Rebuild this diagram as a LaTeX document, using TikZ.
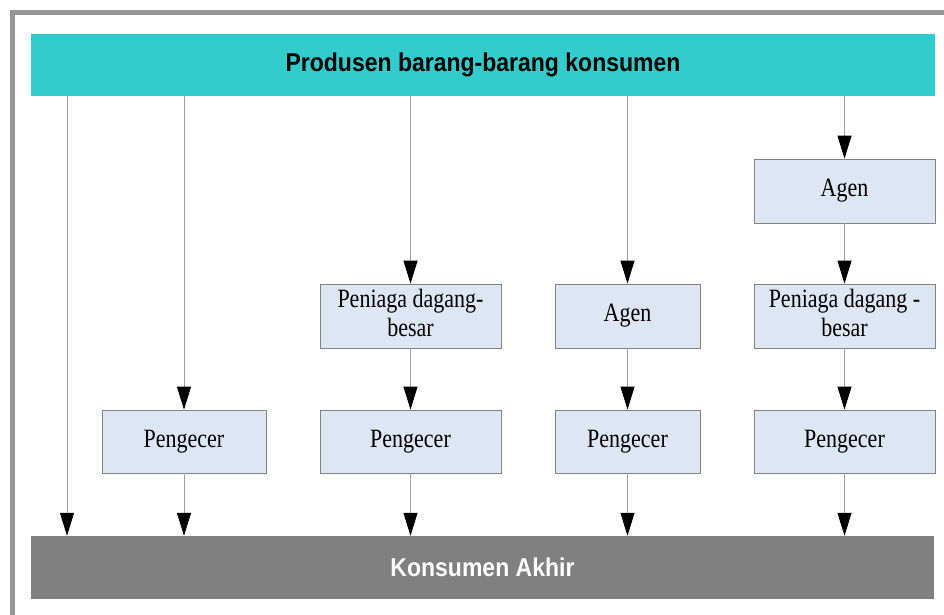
\documentclass[tikz,border=0pt]{standalone}
\usepackage{fontspec}
\usepackage{graphicx}
\setmainfont{Liberation Serif}
\newfontfamily\barfont{Liberation Sans}
\usetikzlibrary{arrows.meta}
\definecolor{tealbar}{RGB}{51,204,204}
\definecolor{graybar}{RGB}{128,128,128}
\definecolor{boxfill}{RGB}{221,230,243}
\definecolor{boxline}{RGB}{130,130,130}
\definecolor{conn}{RGB}{160,160,160}
\definecolor{framec}{RGB}{150,150,150}
\newcommand\vstretch[1]{\scalebox{1}[1.2]{#1}}
\newcommand\barstretch[1]{\scalebox{1}[1.12]{#1}}
\tikzset{
  x=1pt, y=1pt,
  stage/.style={draw=boxline, line width=0.8pt, fill=boxfill, inner sep=0pt,
    align=center, font=\fontsize{22}{24}\selectfont},
  barbox/.style={inner sep=0pt, font=\barfont\bfseries\fontsize{23}{26}\selectfont},
  flow/.style={draw=conn, line width=0.9pt,
    -{Triangle[width=14pt,length=23pt,color=black,fill=black]}},
}
\begin{document}
\begin{tikzpicture}
\useasboundingbox (0,0) rectangle (944,615);
\begin{scope}
\clip (0,0) rectangle (944,615);
\draw[framec, line width=4.5pt] (12.5,-20) -- (12.5,602.5) -- (970,602.5);
\end{scope}

\node[barbox, fill=tealbar, minimum width=904pt, minimum height=62pt] (prod) at (483,550)
  {\raisebox{-2pt}{\barstretch{Produsen barang-barang konsumen}}};
\node[barbox, fill=graybar, text=white, minimum width=903pt, minimum height=63pt] (kons) at (482.5,47.5)
  {\raisebox{-1pt}{\barstretch{Konsumen Akhir}}};

% column 2
\node[stage, minimum width=164pt, minimum height=63pt] (p2) at (184,173.5) {\vstretch{Pengecer}};
% column 3
\node[stage, minimum width=181pt, minimum height=64pt] (w3) at (410.5,299)
  {\vstretch{\begin{tabular}{@{}c@{}}Peniaga dagang-\\besar\end{tabular}}};
\node[stage, minimum width=181pt, minimum height=63pt] (p3) at (410.5,173.5) {\vstretch{Pengecer}};
% column 4
\node[stage, minimum width=145pt, minimum height=64pt] (a4) at (627.5,299) {\vstretch{Agen}};
\node[stage, minimum width=145pt, minimum height=63pt] (p4) at (627.5,173.5) {\vstretch{Pengecer}};
% column 5
\node[stage, minimum width=181pt, minimum height=64pt] (a5) at (844.5,424) {\vstretch{Agen}};
\node[stage, minimum width=181pt, minimum height=64pt] (w5) at (844.5,299)
  {\vstretch{\begin{tabular}{@{}c@{}}Peniaga dagang -\\besar\end{tabular}}};
\node[stage, minimum width=181pt, minimum height=63pt] (p5) at (844.5,173.5) {\vstretch{Pengecer}};

\coordinate (c1) at (67,300);

% column 1
\draw[flow] (prod.south -| c1) -- (kons.north -| c1);
% column 2
\draw[flow] (prod.south -| p2) -- (p2.north);
\draw[flow] (p2.south) -- (kons.north -| p2);
% column 3
\draw[flow] (prod.south -| w3) -- (w3.north);
\draw[flow] (w3.south) -- (p3.north);
\draw[flow] (p3.south) -- (kons.north -| p3);
% column 4
\draw[flow] (prod.south -| a4) -- (a4.north);
\draw[flow] (a4.south) -- (p4.north);
\draw[flow] (p4.south) -- (kons.north -| p4);
% column 5
\draw[flow] (prod.south -| a5) -- (a5.north);
\draw[flow] (a5.south) -- (w5.north);
\draw[flow] (w5.south) -- (p5.north);
\draw[flow] (p5.south) -- (kons.north -| p5);
\end{tikzpicture}
\end{document}
